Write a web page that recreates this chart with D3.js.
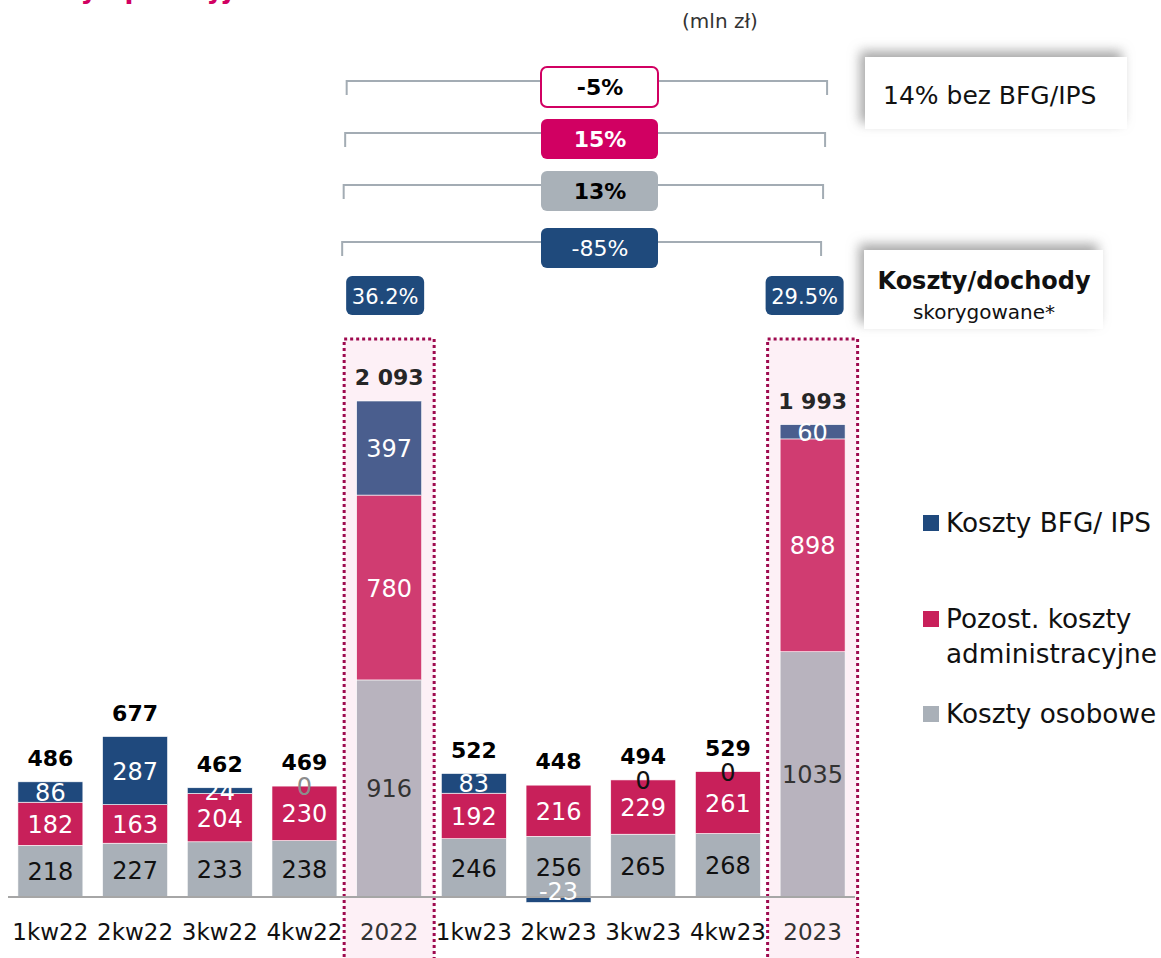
<div id="chart"></div>

<script src="https://d3js.org/d3.v7.min.js"></script>
<script>
    const width = 1161;
    const height = 958;

    // data (mln zł)
    const categories = ["1kw22", "2kw22", "3kw22", "4kw22", "2022", "1kw23", "2kw23", "3kw23", "4kw23", "2023"];
    const osobowe = [218, 227, 233, 238, 916, 246, 256, 265, 268, 1035];
    const admin = [182, 163, 204, 230, 780, 192, 216, 229, 261, 898];
    const bfg = [86, 287, 24, 0, 397, 83, -23, 0, 0, 60];
    const totals = ["486", "677", "462", "469", "2 093", "522", "448", "494", "529", "1 993"];
    const annual = ["2022", "2023"];
    const changes = ["-5%", "15%", "13%", "-85%"];
    const ratios = ["36.2%", "29.5%"];
    const legendLabels = [["Koszty BFG/ IPS"], ["Pozost. koszty", "administracyjne"], ["Koszty osobowe"]];

    const font = "'DejaVu Sans', sans-serif";

    const svg = d3.select("#chart")
        .append("svg")
        .attr("width", width)
        .attr("height", height)
        .style("font-family", font);

    d3.select("body").style("margin", 0).style("background", "#fff");

    const defs = svg.append("defs");
    const shadow = defs.append("filter").attr("id", "shadow")
        .attr("x", "-20%").attr("y", "-50%").attr("width", "140%").attr("height", "200%");
    shadow.append("feDropShadow")
        .attr("dx", -5).attr("dy", -6).attr("stdDeviation", 6)
        .attr("flood-color", "#8a8a8a").attr("flood-opacity", 0.75);

    const rows = categories.map((c, i) => ({ cat: c, osobowe: osobowe[i], admin: admin[i], bfg: bfg[i] }));
    const keys = ["osobowe", "admin", "bfg"];
    const series = d3.stack().keys(keys).offset(d3.stackOffsetDiverging)(rows);

    const x = d3.scaleBand().domain(categories).range([8, 855]).paddingInner(0.233).paddingOuter(0.117);
    const stackTop = d => d.osobowe + d.admin + Math.max(0, d.bfg);
    const y = d3.scaleLinear().domain([0, d3.max(rows, stackTop)]).range([897, 401]);

    const colors = { osobowe: "#a9b0b8", admin: "#c8205a", bfg: "#1f497d" };
    const colorsAnnual = { osobowe: "#b8b3be", admin: "#d03c71", bfg: "#4a5e8e" };

    // title (cut off at top)
    svg.append("text").attr("x", 0).attr("y", -2)
        .attr("font-size", 26).attr("font-weight", "bold").attr("fill", "#d10062")
        .text("Koszty operacyjne");

    svg.append("text").attr("x", 720).attr("y", 28).attr("text-anchor", "middle")
        .attr("font-size", 20).attr("fill", "#333").text("(mln zł)");

    // annual highlight boxes
    annual.forEach(a => {
        const cx = x(a) + x.bandwidth() / 2;
        svg.append("rect")
            .attr("x", cx - 45).attr("y", 339).attr("width", 90).attr("height", 630)
            .attr("fill", "#fdf0f6").attr("stroke", "#9e0a4f").attr("stroke-width", 3)
            .attr("stroke-dasharray", "3,3");
    });

    // bars
    series.forEach(s => {
        svg.append("g").selectAll("rect")
            .data(s)
            .join("rect")
            .attr("x", d => x(d.data.cat))
            .attr("width", x.bandwidth())
            .attr("y", d => y(Math.max(d[0], d[1])))
            .attr("height", d => Math.abs(y(d[0]) - y(d[1])))
            .attr("fill", d => annual.includes(d.data.cat) ? colorsAnnual[s.key] : colors[s.key])
            .attr("stroke", "#fff").attr("stroke-width", 0.6);
    });

    // axis line
    svg.append("line").attr("x1", 8).attr("x2", 855).attr("y1", y(0)).attr("y2", y(0))
        .attr("stroke", "#a6a6a6").attr("stroke-width", 2);

    // segment labels
    series.forEach(s => {
        svg.append("g").selectAll("text")
            .data(s)
            .join("text")
            .attr("x", d => x(d.data.cat) + x.bandwidth() / 2)
            .attr("y", d => {
                const v = d.data[s.key];
                if (v === 0) return y(stackTop(d.data)) + 9;
                if (v < 0) return y(0) + 3;
                return (y(d[0]) + y(d[1])) / 2 + 9;
            })
            .attr("text-anchor", "middle")
            .attr("font-size", 24)
            .attr("fill", (d, i) => {
                const v = d.data[s.key];
                if (s.key === "osobowe") return annual.includes(d.data.cat) ? "#333" : "#111";
                if (v === 0) return i === 3 ? "#8c8c8c" : "#111";
                return "#fff";
            })
            .text(d => d.data[s.key]);
    });

    // totals
    svg.append("g").selectAll("text")
        .data(rows)
        .join("text")
        .attr("x", d => x(d.cat) + x.bandwidth() / 2)
        .attr("y", d => y(stackTop(d)) - 16)
        .attr("text-anchor", "middle")
        .attr("font-size", 22).attr("font-weight", "bold")
        .attr("fill", d => annual.includes(d.cat) ? "#262626" : "#000")
        .text((d, i) => totals[i]);

    // category labels
    svg.append("g").selectAll("text")
        .data(categories)
        .join("text")
        .attr("x", d => x(d) + x.bandwidth() / 2)
        .attr("y", 940)
        .attr("text-anchor", "middle")
        .attr("font-size", 23)
        .attr("fill", d => annual.includes(d) ? "#333" : "#111")
        .text(d => d);

    // change brackets
    const boxStyles = [
        { fill: "#fff", stroke: "#d10062", text: "#000", weight: "bold" },
        { fill: "#d10062", stroke: "none", text: "#fff", weight: "bold" },
        { fill: "#a9b1b8", stroke: "none", text: "#000", weight: "bold" },
        { fill: "#1f4a7c", stroke: "none", text: "#fff", weight: "normal" }
    ];
    const bracketY = [81, 133, 185, 242];
    const x0 = x("2022"), x1 = x("2023") + x.bandwidth();
    changes.forEach((c, i) => {
        const by = bracketY[i];
        const l = x0 - 10 - i * 1.5, r = x1 - 18 - i * 2;
        svg.append("path")
            .attr("d", `M${l},${by + 14}V${by}H${r}V${by + 14}`)
            .attr("fill", "none").attr("stroke", "#a3acb4").attr("stroke-width", 2);
        const st = boxStyles[i];
        svg.append("rect")
            .attr("x", 541).attr("y", by - 14).attr("width", 117).attr("height", 40).attr("rx", 6)
            .attr("fill", st.fill).attr("stroke", st.stroke).attr("stroke-width", 2);
        svg.append("text").attr("x", 600).attr("y", by + 14).attr("text-anchor", "middle")
            .attr("font-size", 22).attr("font-weight", st.weight).attr("fill", st.text).text(c);
    });

    // cost/income ratio boxes
    ratios.forEach((r, i) => {
        const cx = x(annual[i]) + x.bandwidth() / 2 - (i === 0 ? 4 : 8);
        svg.append("rect")
            .attr("x", cx - 39).attr("y", 276).attr("width", 78).attr("height", 39).attr("rx", 6)
            .attr("fill", "#1f4a7c");
        svg.append("text").attr("x", cx).attr("y", 304).attr("text-anchor", "middle")
            .attr("font-size", 21).attr("fill", "#fff").text(r);
    });

    // side notes
    svg.append("rect").attr("x", 865).attr("y", 57).attr("width", 262).attr("height", 72)
        .attr("fill", "#fff").attr("filter", "url(#shadow)");
    svg.append("text").attr("x", 883).attr("y", 104).attr("font-size", 25).attr("fill", "#111")
        .text("14% bez BFG/IPS");

    svg.append("rect").attr("x", 864).attr("y", 250).attr("width", 239).attr("height", 79)
        .attr("fill", "#fff").attr("filter", "url(#shadow)");
    svg.append("text").attr("x", 984).attr("y", 289).attr("text-anchor", "middle")
        .attr("font-size", 24).attr("font-weight", "bold").attr("fill", "#111").text("Koszty/dochody");
    svg.append("text").attr("x", 984).attr("y", 319).attr("text-anchor", "middle")
        .attr("font-size", 20).attr("fill", "#111").text("skorygowane*");

    // legend
    const legendKeys = ["bfg", "admin", "osobowe"];
    const legendY = [532, 628, 723];
    legendKeys.forEach((k, i) => {
        svg.append("rect").attr("x", 923).attr("y", legendY[i] - 17).attr("width", 16).attr("height", 16)
            .attr("fill", colors[k]);
        legendLabels[i].forEach((t, j) => {
            svg.append("text").attr("x", 946).attr("y", legendY[i] + j * 35)
                .attr("font-size", 26.3).attr("fill", "#111").text(t);
        });
    });
</script>
